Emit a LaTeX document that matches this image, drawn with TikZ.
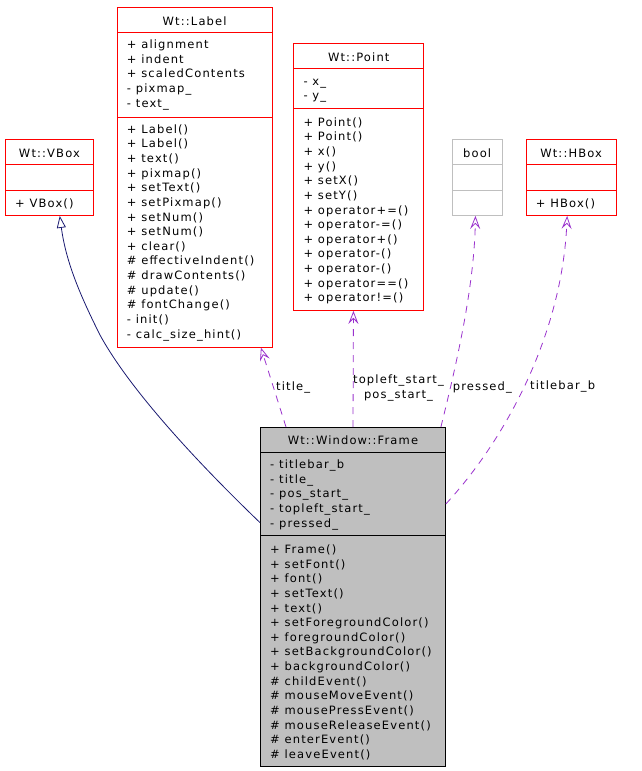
\documentclass[tikz,border=0pt]{standalone}
\usepackage{fontspec}
\newfontfamily\umlfont[LetterSpace=10]{DejaVu Sans}
\usetikzlibrary{arrows.meta}
\definecolor{umlred}{HTML}{FF0000}
\definecolor{framegray}{HTML}{BFBFBF}
\definecolor{boolgray}{HTML}{BFBFBF}
\definecolor{inhblue}{HTML}{191970}
\definecolor{usepurple}{HTML}{9A32CD}
\tikzset{
  txt/.style={font=\umlfont\fontsize{11.5}{14.64}\selectfont, inner sep=0pt},
  members/.style={txt, anchor=north west, align=left},
  comp/.style={draw=umlred, line width=0.9pt, anchor=north west, inner sep=0pt, minimum width=#1},
  graycomp/.style={draw=boolgray, line width=0.9pt, anchor=north west, inner sep=0pt, minimum width=#1},
  framecomp/.style={draw=black, fill=framegray, line width=0.9pt, anchor=north west, inner sep=0pt, minimum width=#1},
  head/.style={txt, text height=10pt, text depth=0pt},
  inh/.style={draw=inhblue, line width=0.8pt, -{Triangle[open, length=12pt, width=9pt]}},
  use/.style={draw=usepurple, line width=0.8pt, dash pattern=on 7pt off 6pt, -{Stealth[open, length=13pt, width=10pt, inset=5pt]}},
}
\begin{document}
\begin{tikzpicture}[x=1pt, y=-1pt]
\useasboundingbox (0,0) rectangle (641,771);

% Wt::VBox
\node[comp=88pt, minimum height=24.7pt, head] (vboxH) at (5,139.3) {Wt::VBox};
\node[comp=88pt, minimum height=26.3pt] (vboxA) at (5,164) {};
\node[comp=88pt, minimum height=24.7pt] (vboxM) at (5,190.3) {};
\node[members] (vboxMt) at (15,197.05) {\strut+ VBox()};

% Wt::Label
\node[comp=155pt, minimum height=25pt, head] (labelH) at (116.7,7.3) {Wt::Label};
\node[comp=155pt, minimum height=84.4pt] (labelA) at (116.7,32.3) {};
\node[comp=155pt, minimum height=230pt] (labelM) at (116.7,116.7) {};
\node[members] (labelAt) at (126.7,38.05) {\strut+ alignment\\+ indent\\+ scaledContents\\- pixmap\_\\- text\_};
\node[members] (labelMt) at (126.7,122.75) {\strut+ Label()\\+ Label()\\+ text()\\+ pixmap()\\+ setText()\\+ setPixmap()\\+ setNum()\\+ setNum()\\+ clear()\\\# effectiveIndent()\\\# drawContents()\\\# update()\\\# fontChange()\\- init()\\- calc\_size\_hint()};

% Wt::Point
\node[comp=130pt, minimum height=25pt, head] (pointH) at (293.3,43.3) {Wt::Point};
\node[comp=130pt, minimum height=40pt] (pointA) at (293.3,68.3) {};
\node[comp=130pt, minimum height=201.7pt] (pointM) at (293.3,108.3) {};
\node[members] (pointAt) at (303.3,74.75) {\strut- x\_\\- y\_};
\node[members] (pointMt) at (303.3,115.75) {\strut+ Point()\\+ Point()\\+ x()\\+ y()\\+ setX()\\+ setY()\\+ operator+=()\\+ operator-=()\\+ operator+()\\+ operator-()\\+ operator-()\\+ operator==()\\+ operator!=()};

% bool
\node[graycomp=50pt, minimum height=24.7pt, head] (boolH) at (451.7,139.3) {bool};
\node[graycomp=50pt, minimum height=26.3pt] (boolA) at (451.7,164) {};
\node[graycomp=50pt, minimum height=24.7pt] (boolM) at (451.7,190.3) {};

% Wt::HBox
\node[comp=90pt, minimum height=24.7pt, head] (hboxH) at (525.7,139.3) {Wt::HBox};
\node[comp=90pt, minimum height=26.3pt] (hboxA) at (525.7,164) {};
\node[comp=90pt, minimum height=24.7pt] (hboxM) at (525.7,190.3) {};
\node[members] (hboxMt) at (535.7,197.05) {\strut+ HBox()};

% Wt::Window::Frame
\node[framecomp=185pt, minimum height=25pt, head] (frameH) at (260,427) {Wt::Window::Frame};
\node[framecomp=185pt, minimum height=83pt] (frameA) at (260,452) {};
\node[framecomp=185pt, minimum height=231pt] (frameM) at (260,535) {};
\node[members] (frameAt) at (270,458.05) {\strut- titlebar\_b\\- title\_\\- pos\_start\_\\- topleft\_start\_\\- pressed\_};
\node[members] (frameMt) at (270,543.05) {\strut+ Frame()\\+ setFont()\\+ font()\\+ setText()\\+ text()\\+ setForegroundColor()\\+ foregroundColor()\\+ setBackgroundColor()\\+ backgroundColor()\\\# childEvent()\\\# mouseMoveEvent()\\\# mousePressEvent()\\\# mouseReleaseEvent()\\\# enterEvent()\\\# leaveEvent()};

% connectors
\draw[inh] ([yshift=13.3pt]frameA.south west) .. controls (198,463) and (130,390) .. (100,335) .. controls (80,295) and (66,262) .. ([xshift=10.3pt]vboxM.south);
\draw[use] ([xshift=26pt]frameH.north west) -- ([xshift=-11.7pt]labelM.south east);
\draw[use] ([xshift=93pt]frameH.north west) -- ([xshift=-5.3pt]pointM.south);
\draw[use] ([xshift=-5pt]frameH.north east) .. controls (455,370) and (474,290) .. ([xshift=-1.7pt]boolM.south);
\draw[use] ([yshift=32pt]frameA.south east) .. controls (505,440) and (562,335) .. ([xshift=-4pt]hboxM.south);

% connector labels
\node[txt, anchor=base west] (lblTitle) at (276,390) {title\_};
\node[txt, anchor=north, align=center] (lblPoint) at (398.5,373.05) {\strut topleft\_start\_\\pos\_start\_};
\node[txt, anchor=base west] (lblPressed) at (452.7,390) {pressed\_};
\node[txt, anchor=base west] (lblTitlebar) at (530,389.3) {titlebar\_b};
\end{tikzpicture}
\end{document}
